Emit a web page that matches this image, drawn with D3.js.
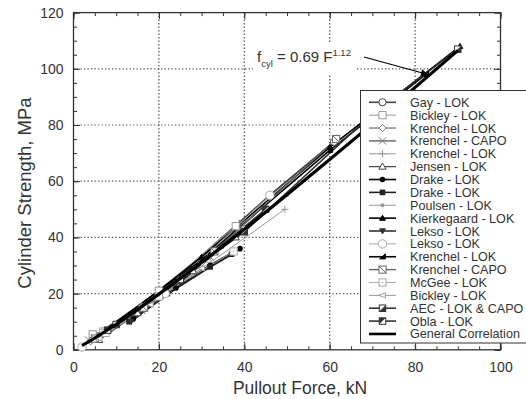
<!DOCTYPE html>
<html><head><meta charset="utf-8">
<script src="https://cdn.jsdelivr.net/npm/d3@7"></script>
<style>body{margin:0;background:#fff}svg{display:block;font-family:"Liberation Sans",Arial,sans-serif}</style>
</head><body><svg id="c" width="526" height="399"></svg>
<script>
// ---- data ----
const seriesNames = ["Gay - LOK","Bickley - LOK","Krenchel - LOK","Krenchel - CAPO","Krenchel - LOK","Jensen - LOK","Drake - LOK","Drake - LOK","Poulsen - LOK","Kierkegaard - LOK","Lekso - LOK","Lekso - LOK","Krenchel - LOK","Krenchel - CAPO","McGee - LOK","Bickley - LOK","AEC - LOK & CAPO","Obla - LOK"];
const seriesMarkers = ["circle","square","diamond","cross","plus","triangle","dot","fsquare","smalldot","ftriangle","fdown","bigcircle","halftri","slashsq","dotsq","lefttri","halfsq","halfsq2"];
const seriesColors = ["#444","#999","#777","#777","#999","#444","#000","#222","#999","#000","#333","#aaa","#000","#666","#aaa","#999","#333","#333"];
const seriesWidths = [1.8,1,1.3,2.2,1,1.2,2.4,2.2,1,1.6,1.8,1,1.6,1.4,1,1,1.6,1.6];
const gayF = [5,20,46,61];            const gayS = [5,20,55,74];
const bickF = [4.5,7,20,38];           const bickS = [5.5,6.5,21,44];
const kren1F = [4,16,30,40];           const kren1S = [3,15.5,31,43];
const krenCapoF = [3.5,16,32,39.5];    const krenCapoS = [3.5,14,33,45];
const kren2F = [6,20,32,49.5];         const kren2S = [5,19,31,50];
const jensenF = [6,15,28,38];          const jensenS = [3.5,13,28,40];
const drake1F = [14,24,32,39];         const drake1S = [11,22,30,36];
const drake2F = [13,22,32,37];         const drake2S = [10,20,29.5,34];
const poulsenF = [10,25,40,50];        const poulsenS = [9,25,42,55];
const kierkF = [8,30,60,90.5];         const kierkS = [7,33,72,108];
const lekso1F = [13.5,25,35];          const lekso1S = [10,24,37];
const lekso2F = [2,21.5,46];           const lekso2S = [1,20,55];
const kren3F = [5,30,60,82.5];         const kren3S = [4.5,32,71,98];
const krenCapo2F = [5,16.5,33,61.5];   const krenCapo2S = [4,15,35,75];
const mcgeeF = [7.5,20,37.5];          const mcgeeS = [6,19,35];
const bick2F = [6,18,30];              const bick2S = [4,16,29];
const aecF = [10,40,70,90];            const aecS = [9,42,84,107];
const oblaF = [8,25,45];               const oblaS = [7,25,50];
const seriesF = [gayF,bickF,kren1F,krenCapoF,kren2F,jensenF,drake1F,drake2F,poulsenF,kierkF,lekso1F,lekso2F,kren3F,krenCapo2F,mcgeeF,bick2F,aecF,oblaF];
const seriesS = [gayS,bickS,kren1S,krenCapoS,kren2S,jensenS,drake1S,drake2S,poulsenS,kierkS,lekso1S,lekso2S,kren3S,krenCapo2S,mcgeeS,bick2S,aecS,oblaS];
const corrF = [2,5,10,15,20,30,40,50,60,70,80,90];
const corrS = [1.5,4.2,9.1,14.3,19.8,31.1,42.9,55.2,67.7,80.4,93.4,106.5];
const xTicks = [0,20,40,60,80,100];
const yTicks = [0,20,40,60,80,100,120];

// ---- layout ----
const svg = d3.select("#c");
const L=73.5,R=500.5,T=12.6,B=349.8;
const x = d3.scaleLinear().domain([0,100]).range([L,R]);
const y = d3.scaleLinear().domain([0,120]).range([B,T]);
const ink="#333";

// grid
const g = svg.append("g");
g.selectAll("line.gx").data(xTicks.filter(d=>d>0&&d<100)).join("line")
 .attr("x1",d=>x(d)).attr("x2",d=>x(d)).attr("y1",T).attr("y2",B)
 .attr("stroke","#555").attr("stroke-width",1.2).attr("stroke-dasharray","1.3,2.2");
g.selectAll("line.gy").data(yTicks.filter(d=>d>0&&d<120)).join("line")
 .attr("y1",d=>y(d)).attr("y2",d=>y(d)).attr("x1",L).attr("x2",R)
 .attr("stroke","#555").attr("stroke-width",1.2).attr("stroke-dasharray","1.3,2.2");

// annotation background (breaks gridlines)
svg.append("rect").attr("x",253).attr("y",44).attr("width",102).attr("height",30).attr("fill","#fff");

// axes with inward ticks
const minorX = d3.range(0,101,5), minorY = d3.range(0,121,5);
function axisTicks(axisGen, tr, scale, vals, minorVals, labels, pad){
  const a = svg.append("g").attr("transform",tr);
  a.call(axisGen(scale).tickValues(minorVals).tickSize(-3.5).tickFormat(""));
  const b = svg.append("g").attr("transform",tr);
  b.call(axisGen(scale).tickValues(vals).tickSize(-6.5).tickPadding(labels?pad:0).tickFormat(labels?d3.format("d"):""));
  [a,b].forEach(s=>{s.select(".domain").remove(); s.selectAll("line").attr("stroke",ink).attr("stroke-width",1);});
  b.selectAll("text").attr("fill",ink).attr("font-size",14).attr("font-family","Liberation Sans, Arial, sans-serif");
  return b;
}
axisTicks(d3.axisBottom,`translate(0,${B})`,x,xTicks,minorX,true,12);
axisTicks(d3.axisLeft,`translate(${L},0)`,y,yTicks,minorY,true,10);
axisTicks(d3.axisTop,`translate(0,${T})`,x,xTicks,minorX,false,0);
axisTicks(d3.axisRight,`translate(${R},0)`,y,yTicks,minorY,false,0);
svg.append("rect").attr("x",L).attr("y",T).attr("width",R-L).attr("height",B-T)
 .attr("fill","none").attr("stroke",ink).attr("stroke-width",1.3);

// markers
function marker(sel,type,cx,cy,color){
  const s=3.6;
  const gg=sel.append("g").attr("transform",`translate(${cx},${cy})`);
  const st=(e,fill)=>e.attr("stroke",color).attr("stroke-width",1).attr("fill",fill||"#fff");
  switch(type){
    case "circle": st(gg.append("circle").attr("r",s)); break;
    case "bigcircle": st(gg.append("circle").attr("r",s+0.6)); break;
    case "square": st(gg.append("rect").attr("x",-s).attr("y",-s).attr("width",2*s).attr("height",2*s)); break;
    case "dotsq": st(gg.append("rect").attr("x",-s).attr("y",-s).attr("width",2*s).attr("height",2*s)); gg.append("circle").attr("r",0.8).attr("fill",color); break;
    case "slashsq": st(gg.append("rect").attr("x",-s).attr("y",-s).attr("width",2*s).attr("height",2*s)); st(gg.append("line").attr("x1",-s).attr("y1",-s).attr("x2",s).attr("y2",s)); break;
    case "diamond": st(gg.append("path").attr("d",`M0,${-s}L${s},0L0,${s}L${-s},0Z`)); break;
    case "cross": st(gg.append("path").attr("d",`M${-s},${-s}L${s},${s}M${-s},${s}L${s},${-s}`)); break;
    case "plus": st(gg.append("path").attr("d",`M${-s},0L${s},0M0,${-s}L0,${s}`)); break;
    case "triangle": st(gg.append("path").attr("d",`M0,${-s}L${s},${s*0.7}L${-s},${s*0.7}Z`)); break;
    case "ftriangle": st(gg.append("path").attr("d",`M0,${-s*0.8}L${s*0.8},${s*0.6}L${-s*0.8},${s*0.6}Z`),color); break;
    case "fdown": st(gg.append("path").attr("d",`M0,${s*0.8}L${s*0.8},${-s*0.6}L${-s*0.8},${-s*0.6}Z`),color); break;
    case "halftri": st(gg.append("path").attr("d",`M${s*0.8},${-s*0.8}L${s*0.8},${s*0.6}L${-s*0.8},${s*0.6}Z`),color); break;
    case "lefttri": st(gg.append("path").attr("d",`M${-s},0L${s*0.8},${-s*0.7}L${s*0.8},${s*0.7}Z`)); break;
    case "dot": gg.append("circle").attr("r",2.8).attr("fill",color); break;
    case "smalldot": gg.append("circle").attr("r",2).attr("fill",color); break;
    case "fsquare": gg.append("rect").attr("x",-2.8).attr("y",-2.8).attr("width",5.6).attr("height",5.6).attr("fill",color); break;
    case "halfsq": st(gg.append("rect").attr("x",-s*0.9).attr("y",-s*0.9).attr("width",1.8*s).attr("height",1.8*s)); gg.append("path").attr("d",`M${s*0.9},${-s*0.9}L${s*0.9},${s*0.9}L${-s*0.9},${s*0.9}Z`).attr("fill",color); break;
    case "halfsq2": st(gg.append("rect").attr("x",-s*0.9).attr("y",-s*0.9).attr("width",1.8*s).attr("height",1.8*s)); gg.append("path").attr("d",`M${-s*0.9},${-s*0.9}L${s*0.9},${-s*0.9}L${-s*0.9},${s*0.9}Z`).attr("fill",color); break;
  }
}

// series
const line = d3.line().x(d=>x(d[0])).y(d=>y(d[1]));
const dataG = svg.append("g");
seriesF.forEach((fs,i)=>{
  const pts = fs.map((f,j)=>[f,seriesS[i][j]]);
  dataG.append("path").attr("d",line(pts)).attr("fill","none")
   .attr("stroke",seriesColors[i]).attr("stroke-width",seriesWidths[i]);
});
seriesF.forEach((fs,i)=>{
  fs.forEach((f,j)=>marker(dataG,seriesMarkers[i],x(f),y(seriesS[i][j]),seriesColors[i]));
});
// general correlation
const corrPts = corrF.map((f,j)=>[f,corrS[j]]);
dataG.append("path").attr("d",d3.line().curve(d3.curveMonotoneX).x(d=>x(d[0])).y(d=>y(d[1]))(corrPts))
 .attr("fill","none").attr("stroke","#000").attr("stroke-width",3.2);

// annotation
const ann = svg.append("text").attr("x",257).attr("y",62).attr("fill",ink).attr("font-size",15);
ann.append("tspan").text("f");
ann.append("tspan").attr("font-size",9.5).attr("dy",5).text("cyl");
ann.append("tspan").attr("dy",-5).text(" = 0.69 F");
ann.append("tspan").attr("font-size",9.5).attr("dy",-6).text("1.12");
svg.append("defs").append("marker").attr("id","ah").attr("viewBox","0 0 10 10").attr("refX",10).attr("refY",5)
 .attr("markerWidth",10).attr("markerHeight",7).attr("markerUnits","userSpaceOnUse").attr("orient","auto")
 .append("path").attr("d","M0,0L10,5L0,10Z").attr("fill","#000");
svg.append("line").attr("x1",364).attr("y1",57).attr("x2",428).attr("y2",74.5)
 .attr("stroke","#000").attr("stroke-width",1.2).attr("marker-end","url(#ah)");

// legend
const lg = svg.append("g");
lg.append("rect").attr("x",360.5).attr("y",90.5).attr("width",170).attr("height",252.5)
 .attr("fill","#fff").attr("stroke",ink).attr("stroke-width",1);
const legNames = seriesNames.concat(["General Correlation"]);
legNames.forEach((nm,i)=>{
  const yy = 102.3 + i*12.87;
  const isCorr = i===seriesNames.length;
  lg.append("line").attr("x1",369).attr("x2",396).attr("y1",yy).attr("y2",yy)
   .attr("stroke",isCorr?"#000":seriesColors[i]).attr("stroke-width",isCorr?2.6:Math.min(seriesWidths[i],1.6));
  if(!isCorr) marker(lg,seriesMarkers[i],382.5,yy,seriesColors[i]);
  lg.append("text").attr("x",410).attr("y",yy).attr("dy","0.36em").attr("font-size",12.6).attr("fill",ink).text(nm);
});

// axis titles
svg.append("text").attr("x",300).attr("y",394).attr("text-anchor","middle").attr("font-size",17.5).attr("fill",ink).text("Pullout Force, kN");
svg.append("text").attr("transform","translate(31,193) rotate(-90)").attr("text-anchor","middle").attr("font-size",18.5).attr("fill",ink).text("Cylinder Strength, MPa");
</script></body></html>
